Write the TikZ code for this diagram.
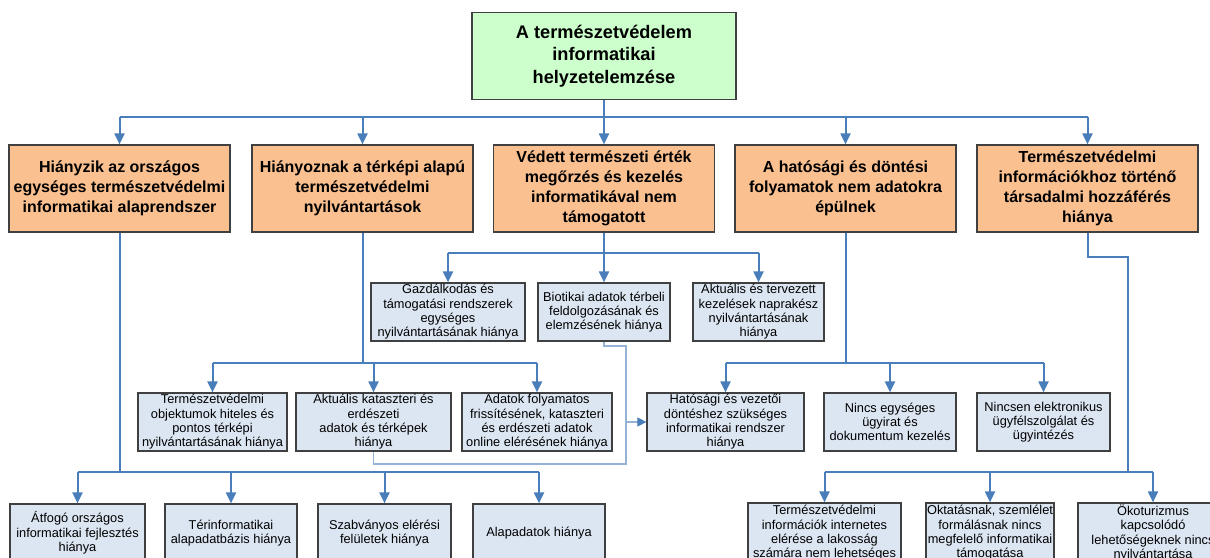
\documentclass[tikz,border=0pt]{standalone}
\usepackage{fontspec}
\setmainfont{Liberation Sans}
\usetikzlibrary{arrows.meta}

\definecolor{conn}{HTML}{4A7EBB}
\definecolor{thinconn}{HTML}{95B3D7}
\definecolor{edge}{HTML}{404040}
\definecolor{greenfill}{HTML}{CCFFCC}
\definecolor{orangefill}{HTML}{FAC090}
\definecolor{bluefill}{HTML}{DCE6F2}

\tikzset{
  box/.style={draw=edge, line width=1.2pt, inner sep=0pt, align=center, text=black},
  rootbox/.style={box, fill=greenfill, font=\fontsize{18.2}{22.5}\selectfont\bfseries},
  mainbox/.style={box, fill=orangefill, font=\fontsize{16}{20}\selectfont\bfseries},
  subbox/.style={box, fill=bluefill, font=\fontsize{12.8}{14.3}\selectfont},
  link/.style={draw=conn, line width=2pt},
  arr/.style={link, -{Triangle[length=11pt,width=10pt]}},
  thinlink/.style={draw=thinconn, line width=1.1pt},
  thinarr/.style={thinlink, -{Triangle[length=9pt,width=9pt,color=conn]}},
}

\begin{document}
\begin{tikzpicture}[x=1pt, y=-1pt]
\clip (0,0) rectangle (1210,557);
\fill[white] (0,0) rectangle (1210,557);

% root
\node[rootbox, minimum width=264, minimum height=87] (root) at (604,56)
  {A természetvédelem\\informatikai\\helyzetelemzése};

% main problem areas
\node[mainbox, minimum width=221, minimum height=87] (b1) at (119.5,188.5)
  {Hiányzik az országos\\egységes természetvédelmi\\informatikai alaprendszer};
\node[mainbox, minimum width=221, minimum height=87] (b2) at (362.5,188.5)
  {Hiányoznak a térképi alapú\\természetvédelmi\\nyilvántartások};
\node[mainbox, minimum width=221, minimum height=87] (b3) at (604,188.5)
  {Védett természeti érték\\megőrzés és kezelés\\informatikával nem\\támogatott};
\node[mainbox, minimum width=221, minimum height=87] (b4) at (845.5,188.5)
  {A hatósági és döntési\\folyamatok nem adatokra\\épülnek};
\node[mainbox, minimum width=221, minimum height=87] (b5) at (1087.5,188.5)
  {Természetvédelmi\\információkhoz történő\\társadalmi hozzáférés\\hiánya};

% first row of details
\node[subbox, minimum width=154, minimum height=58] (g) at (448,312)
  {Gazdálkodás és\\támogatási rendszerek\\egységes\\nyilvántartásának hiánya};
\node[subbox, minimum width=132, minimum height=58] (bio) at (604,312)
  {Biotikai adatok térbeli\\feldolgozásának és\\elemzésének hiánya};
\node[subbox, minimum width=131, minimum height=58] (akt) at (758.5,312)
  {Aktuális és tervezett\\kezelések naprakész\\nyilvántartásának\\hiánya};

% second row of details
\node[subbox, minimum width=149, minimum height=58] (t) at (212.5,422)
  {Természetvédelmi\\objektumok hiteles és\\pontos térképi\\nyilvántartásának hiánya};
\node[subbox, minimum width=155, minimum height=58] (k) at (373.5,422)
  {Aktuális kataszteri és\\erdészeti\\adatok és térképek\\hiánya};
\node[subbox, minimum width=150, minimum height=58] (a) at (537,422)
  {Adatok folyamatos\\frissítésének, kataszteri\\és erdészeti adatok\\online elérésének hiánya};
\node[subbox, minimum width=157, minimum height=58] (hat) at (725.5,422)
  {Hatósági és vezetői\\döntéshez szükséges\\informatikai rendszer\\hiánya};
\node[subbox, minimum width=132, minimum height=58] (nincs) at (890,422)
  {Nincs egységes\\ügyirat és\\dokumentum kezelés};
\node[subbox, minimum width=133, minimum height=58] (nincsen) at (1043.5,422)
  {Nincsen elektronikus\\ügyfélszolgálat és\\ügyintézés};

% bottom row
\node[subbox, minimum width=135, minimum height=58] (atf) at (77.5,533)
  {Átfogó országos\\informatikai fejlesztés\\hiánya};
\node[subbox, minimum width=132, minimum height=58] (ter) at (231,533)
  {Térinformatikai\\alapadatbázis hiánya};
\node[subbox, minimum width=133, minimum height=58] (szab) at (384.5,533)
  {Szabványos elérési\\felületek hiánya};
\node[subbox, minimum width=132, minimum height=58] (alap) at (539,533)
  {Alapadatok hiánya};
\node[subbox, minimum width=153, minimum height=60] (ti) at (824.5,533)
  {Természetvédelmi\\információk internetes\\elérése a lakosság\\számára nem lehetséges};
\node[subbox, minimum width=128, minimum height=60] (okt) at (990,533)
  {Oktatásnak, szemlélet\\formálásnak nincs\\megfelelő informatikai\\támogatása};
\node[subbox, minimum width=150, minimum height=60] (oko) at (1153,533)
  {Ökoturizmus\\kapcsolódó\\lehetőségeknek nincs\\nyilvántartása};

% root to main areas
\coordinate (bus0) at (604,117);
\draw[link] (root.south) -- (bus0);
\draw[link] (b1.north |- bus0) -- (b5.north |- bus0);
\foreach \n in {b1,b2,b3,b4,b5}
  \draw[arr] (\n.north |- bus0) -- (\n.north);

% area 3 details
\coordinate (bus1) at (604,253);
\draw[link] (b3.south) -- (b3.south |- bus1);
\draw[link] (g.north |- bus1) -- (akt.north |- bus1);
\foreach \n in {g,bio,akt}
  \draw[arr] (\n.north |- bus1) -- (\n.north);

% area 2 details
\coordinate (bus2) at (362.5,363);
\draw[link] (b2.south) -- (bus2);
\draw[link] (t.north |- bus2) -- (a.north |- bus2);
\foreach \n in {t,k,a}
  \draw[arr] (\n.north |- bus2) -- (\n.north);

% area 4 details
\coordinate (bus3) at (845.5,363);
\draw[link] (b4.south) -- (bus3);
\draw[link] (hat.north |- bus3) -- (nincsen.north |- bus3);
\foreach \n in {hat,nincs,nincsen}
  \draw[arr] (\n.north |- bus3) -- (\n.north);

% area 1 details
\coordinate (bus4) at (119.5,472);
\draw[link] (b1.south) -- (bus4);
\draw[link] (atf.north |- bus4) -- (alap.north |- bus4);
\foreach \n in {atf,ter,szab,alap}
  \draw[arr] (\n.north |- bus4) -- (\n.north);

% area 5 details
\coordinate (bus5a) at (1087.5,257);
\coordinate (bus5b) at (1128,257);
\coordinate (bus5) at (1128,472);
\draw[link] (b5.south) -- (bus5a) -- (bus5b) -- (bus5);
\draw[link] (ti.north |- bus5) -- (oko.north |- bus5);
\foreach \n in {ti,okt,oko}
  \draw[arr] (\n.north |- bus5) -- (\n.north);

% cross links into the decision support box
\coordinate (c1) at (604,346);
\coordinate (c2) at (626,346);
\coordinate (c3) at (626,464);
\coordinate (c4) at (373.5,464);
\coordinate (c5) at (626,422);
\draw[thinlink] (bio.south) -- (c1) -- (c2) -- (c3) -- (c4) -- (k.south);
\draw[thinarr] (c5) -- (hat.west);
\end{tikzpicture}
\end{document}
